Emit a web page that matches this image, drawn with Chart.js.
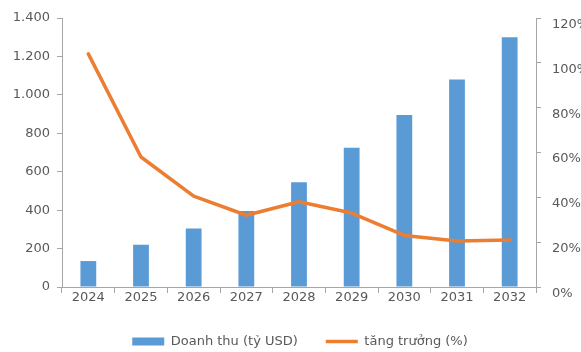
<!DOCTYPE html>
<html>
<head>
<meta charset="utf-8">
<script src="https://cdn.jsdelivr.net/npm/chart.js@4.4.1/dist/chart.umd.min.js"></script>
<style>
  html, body { margin: 0; padding: 0; background: #fff; overflow: hidden; }
  #wrap { position: relative; width: 600px; height: 352px; }
</style>
</head>
<body>
<div id="wrap"><canvas id="c"></canvas></div>
<script>
// Revenue (billion USD) and growth (%) by year
const years = ['2024', '2025', '2026', '2027', '2028', '2029', '2030', '2031', '2032'];
const revenue = [135, 220, 305, 395, 545, 725, 895, 1080, 1300];
const growth = [104, 58, 40.5, 32, 38, 33, 23, 20.5, 21];
const revenueTicks = [0, 200, 400, 600, 800, 1000, 1200, 1400];
const growthTicks = [0, 20, 40, 60, 80, 100, 120];

const FONT = { family: 'DejaVu Sans', size: 13 };
const TEXT = '#595959';
const AXIS = '#A6A6A6';

function fmtThousands(v) {
  return String(v).replace(/\B(?=(\d{3})+(?!\d))/g, '.');
}

new Chart(document.getElementById('c'), {
  data: {
    labels: years,
    datasets: [
      {
        type: 'bar',
        label: 'Doanh thu (tỷ USD)',
        data: revenue,
        backgroundColor: '#5B9BD5',
        borderWidth: 0,
        barPercentage: 0.6,
        categoryPercentage: 0.5,
        yAxisID: 'y',
        order: 2,
        pointStyle: 'rect'
      },
      {
        type: 'line',
        label: 'tăng trưởng (%)',
        data: growth,
        borderColor: '#ED7D31',
        backgroundColor: '#ED7D31',
        borderWidth: 3.5,
        tension: 0,
        pointRadius: 0,
        borderJoinStyle: 'round',
        borderCapStyle: 'round',
        yAxisID: 'y1',
        order: 1,
        pointStyle: 'line'
      }
    ]
  },
  options: {
    responsive: true,
    maintainAspectRatio: false,
    animation: false,
    layout: { padding: { top: 18, left: 0, right: 0, bottom: -6 } },
    plugins: {
      tooltip: { enabled: false },
      legend: {
        position: 'bottom',
        labels: {
          usePointStyle: true,
          pointStyleWidth: 32,
          boxHeight: 8,
          color: TEXT,
          font: FONT,
          padding: 28,
          sort: (a, b) => a.datasetIndex - b.datasetIndex
        }
      }
    },
    scales: {
      x: {
        afterFit: s => { s.height = 20; },
        grid: { display: true, offset: true, drawOnChartArea: false, color: AXIS, tickLength: 6 },
        border: { color: AXIS, width: 1 },
        ticks: { color: TEXT, font: FONT, padding: -3, maxRotation: 0 }
      },
      y: {
        position: 'left',
        min: 0,
        max: 1400,
        afterBuildTicks: s => { s.ticks = revenueTicks.map(v => ({ value: v })); },
        afterFit: s => { s.width = 62; },
        grid: { display: true, drawOnChartArea: false, color: AXIS, tickLength: 5 },
        border: { color: AXIS, width: 1 },
        ticks: { color: TEXT, font: FONT, padding: 7, callback: v => fmtThousands(v) }
      },
      y1: {
        position: 'right',
        min: 0,
        max: 120,
        afterBuildTicks: s => { s.ticks = growthTicks.map(v => ({ value: v })); },
        afterFit: s => { s.width = 64; },
        grid: { display: true, drawOnChartArea: false, color: AXIS, tickLength: 5 },
        border: { color: AXIS, width: 1 },
        ticks: { color: TEXT, font: FONT, padding: 11, align: 'start', callback: v => v + '%' }
      }
    }
  }
});
</script>
</body>
</html>
